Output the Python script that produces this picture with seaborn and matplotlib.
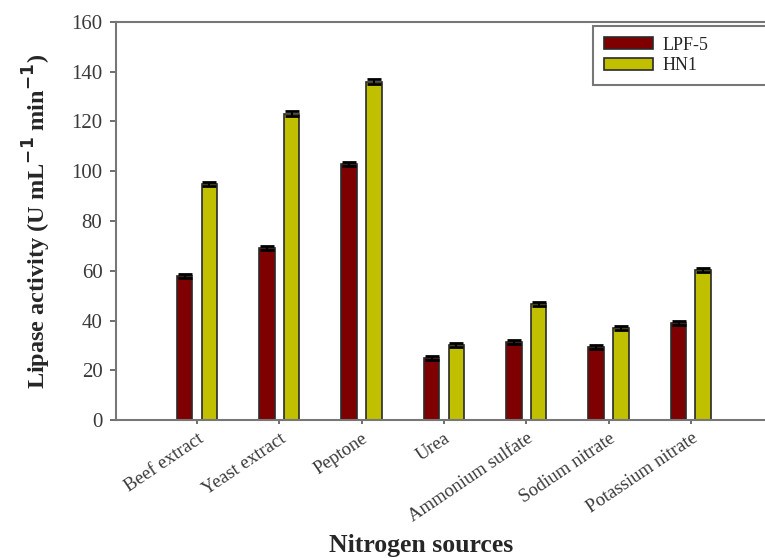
import pandas as pd
import numpy as np
import matplotlib.pyplot as plt
import seaborn as sns

# data
sources = ["Beef extract", "Yeast extract", "Peptone", "Urea",
           "Ammonium sulfate", "Sodium nitrate", "Potassium nitrate"]
lpf5 = [58, 69, 103, 25, 31.5, 29.5, 39]
hn1 = [95, 123, 136, 30, 46.5, 37, 60.5]
lpf5_err = [0.8, 0.8, 0.8, 0.8, 0.8, 0.8, 0.8]
hn1_err = [0.8, 1.0, 1.0, 0.8, 0.8, 0.8, 0.8]

strains = ["LPF-5", "HN1"]
colors = ["#7f0000", "#c0c000"]

df = pd.DataFrame({
    "source": sources * 2,
    "strain": ["LPF-5"] * len(sources) + ["HN1"] * len(sources),
    "activity": lpf5 + hn1,
})

sns.set_style("ticks")
plt.rcParams['font.family'] = ['Liberation Serif', 'DejaVu Serif']

fig = plt.figure(figsize=(7.65, 5.58), dpi=100)
ax = fig.add_axes([0.152, 0.247, 0.848, 0.714])

sns.barplot(data=df, x="source", y="activity", hue="strain", hue_order=strains,
            palette=colors, saturation=1, width=0.6, gap=0.37,
            edgecolor="#2a2a2a", linewidth=1.2, errorbar=None, ax=ax)

# small error caps on the bar tops
bars = ax.patches[:2 * len(sources)]
errs = lpf5_err + hn1_err
for b, e in zip(bars, errs):
    ax.errorbar(b.get_x() + b.get_width() / 2, b.get_height(), yerr=e,
                color="black", capsize=5, capthick=2, lw=1.5)

ax.set_ylim(0, 160)
ax.set_xlim(-0.98, 6.9)
ax.set_yticks(range(0, 161, 20))
ax.tick_params(axis="y", labelsize=15, colors="#555555", labelcolor="#3a3a3a",
               length=4, width=1.2, pad=6)
ax.tick_params(axis="x", labelsize=13.5, colors="#555555", labelcolor="#3a3a3a",
               length=3, width=1.2, pad=4)
plt.setp(ax.get_xticklabels(), rotation=34, ha="right", rotation_mode="anchor")

ax.set_ylabel("Lipase activity (U mL$^{\\mathbf{-1}}$ min$^{\\mathbf{-1}}$)",
              fontsize=17.5, fontweight="bold")
ax.yaxis.set_label_coords(-0.098, 0.5)
ax.set_xlabel("Nitrogen sources", fontsize=18.5, fontweight="bold")
ax.xaxis.set_label_coords(0.47, -0.285)

for s in ["left", "bottom", "top"]:
    ax.spines[s].set_color("#777777")
    ax.spines[s].set_linewidth(1.5)
ax.spines["right"].set_visible(False)

leg = ax.legend(loc="upper left", bbox_to_anchor=(0.735, 0.842, 0.3, 0.148),
                mode="expand", borderaxespad=0, fontsize=13, handlelength=2.7,
                handleheight=0.6, frameon=True, fancybox=False, borderpad=0.6,
                labelspacing=0.2, handletextpad=0.55)
leg.get_frame().set_edgecolor("#555555")
leg.get_frame().set_linewidth(1.5)

fig.savefig("out.png", dpi=100)
